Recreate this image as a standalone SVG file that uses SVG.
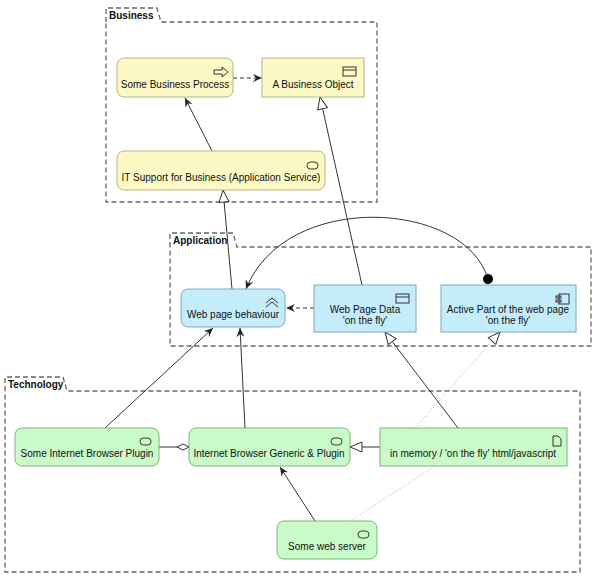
<svg xmlns="http://www.w3.org/2000/svg" width="600" height="582" viewBox="0 0 600 582">
<style>
text{font-family:"Liberation Sans",Arial,sans-serif;font-size:10px;fill:#111;text-anchor:middle}
.grp{fill:#fff;stroke:#666;stroke-width:1.3;stroke-dasharray:5,3}
.gl{font-weight:bold;text-anchor:start;font-size:10px}
.bus{fill:#fdf9c4;stroke:#b8b088}
.app{fill:#c4ecfa;stroke:#7fa8bc}
.tec{fill:#c8fbc8;stroke:#80b080}
.ic{fill:none;stroke:#333;stroke-width:1}
.e{fill:none;stroke:#333;stroke-width:1}
.d{stroke-dasharray:4,3}
.dot{stroke:#aaa;stroke-dasharray:1,2}
</style>
<defs>
<marker id="ar" markerWidth="10" markerHeight="8" refX="9" refY="4" orient="auto" markerUnits="userSpaceOnUse"><path d="M0,0 L9,4 L0,8 L3,4z" fill="#222"/></marker>
<marker id="tri" markerWidth="14" markerHeight="12" refX="13" refY="6" orient="auto" markerUnits="userSpaceOnUse"><path d="M1,1 L13,6 L1,11z" fill="#fff" stroke="#333"/></marker>
<marker id="dia" markerWidth="14" markerHeight="8" refX="13" refY="4" orient="auto" markerUnits="userSpaceOnUse"><path d="M1,4 L7,1 L13,4 L7,7z" fill="#fff" stroke="#333"/></marker>
<marker id="ball" markerWidth="12" markerHeight="12" refX="6" refY="6" orient="auto" markerUnits="userSpaceOnUse"><circle cx="6" cy="6" r="5" fill="#000"/></marker>
</defs>
<g id="g-business"><path class="grp" d="M106,22 V8 H157 L161,22 H377 V202 H106Z"/><text class="gl" x="109" y="19">Business</text></g>
<g id="g-application"><path class="grp" d="M170,247 V233 H233 L237,247 H591 V346 H170Z"/><text class="gl" x="173" y="244">Application</text></g>
<g id="g-technology"><path class="grp" d="M5,391 V377 H63 L67,391 H580 V572 H5Z"/><text class="gl" x="8" y="388">Technology</text></g>
<g id="connectors">
<path class="e d" d="M233,78 H262" marker-end="url(#ar)"/>
<path class="e" d="M212,151 L185,98" marker-end="url(#ar)"/>
<path class="e" d="M232,289 L223,190" marker-end="url(#tri)"/>
<path class="e" d="M362,285 L320,97" marker-end="url(#tri)"/>
<path class="e" d="M488,279 C465,200 285,190 246,289" marker-start="url(#ball)" marker-end="url(#ar)"/>
<path class="e d" d="M314,308 H286" marker-end="url(#ar)"/>
<path class="e" d="M105,428 L213,328" marker-end="url(#ar)"/>
<path class="e" d="M245,428 L240,328" marker-end="url(#ar)"/>
<path class="e" d="M458,428 L385,332" marker-end="url(#tri)"/>
<path class="e dot" d="M415,428 L500,332" marker-end="url(#tri)"/>
<path class="e" d="M159,447 H189" marker-end="url(#dia)"/>
<path class="e" d="M380,447 H350" marker-end="url(#tri)"/>
<path class="e" d="M315,521 L280,467" marker-end="url(#ar)"/>
<path class="e dot" d="M350,521 L435,466"/>
</g>
<g id="n-bp"><rect class="bus" x="117" y="58" width="116" height="39" rx="7"/><path class="ic" d="M214,70 H222 V67 L228,72 L222,77 V74 H214Z"/><text x="175" y="88">Some Business Process</text></g>
<g id="n-bo"><rect class="bus" x="262" y="58" width="102" height="39"/><rect class="ic" x="343" y="67" width="13" height="9"/><path class="ic" d="M343,70 H356"/><text x="313" y="88">A Business Object</text></g>
<g id="n-its"><rect class="bus" x="117" y="151" width="208" height="39" rx="7"/><rect class="ic" x="307" y="162" width="11" height="7" rx="3.5"/><text x="221" y="181">IT Support for Business (Application Service)</text></g>
<g id="n-wpb"><rect class="app" x="181" y="289" width="104" height="38" rx="7"/><path class="ic" d="M266,303 L272,298 L278,303 M266,307 L272,302 L278,307"/><text x="233" y="318">Web page behaviour</text></g>
<g id="n-wpd"><rect class="app" x="314" y="285" width="102" height="47"/><rect class="ic" x="396" y="294" width="13" height="9"/><path class="ic" d="M396,297 H409"/><text x="365" y="313">Web Page Data</text><text x="365" y="324">'on the fly'</text></g>
<g id="n-ap"><rect class="app" x="441" y="285" width="135" height="47"/><rect class="ic" x="559" y="294" width="10" height="10"/><rect class="ic" x="556" y="296" width="5" height="2"/><rect class="ic" x="556" y="300" width="5" height="2"/><text x="508" y="313">Active Part of the web page</text><text x="508" y="324">'on the fly'</text></g>
<g id="n-sibp"><rect class="tec" x="15" y="428" width="144" height="38" rx="7"/><rect class="ic" x="140" y="438" width="11" height="7" rx="3.5"/><text x="87" y="457">Some Internet Browser Plugin</text></g>
<g id="n-ibg"><rect class="tec" x="189" y="428" width="161" height="38" rx="7"/><rect class="ic" x="331" y="438" width="11" height="7" rx="3.5"/><text x="269" y="457">Internet Browser Generic &amp; Plugin</text></g>
<g id="n-mem"><rect class="tec" x="380" y="428" width="187" height="38"/><path class="ic" d="M553,436 H558 L561,439 V446 H553Z"/><text x="473" y="457">in memory / 'on the fly' html/javascript</text></g>
<g id="n-ws"><rect class="tec" x="277" y="521" width="100" height="38" rx="7"/><rect class="ic" x="358" y="531" width="11" height="7" rx="3.5"/><text x="327" y="550">Some web server</text></g>
</svg>
